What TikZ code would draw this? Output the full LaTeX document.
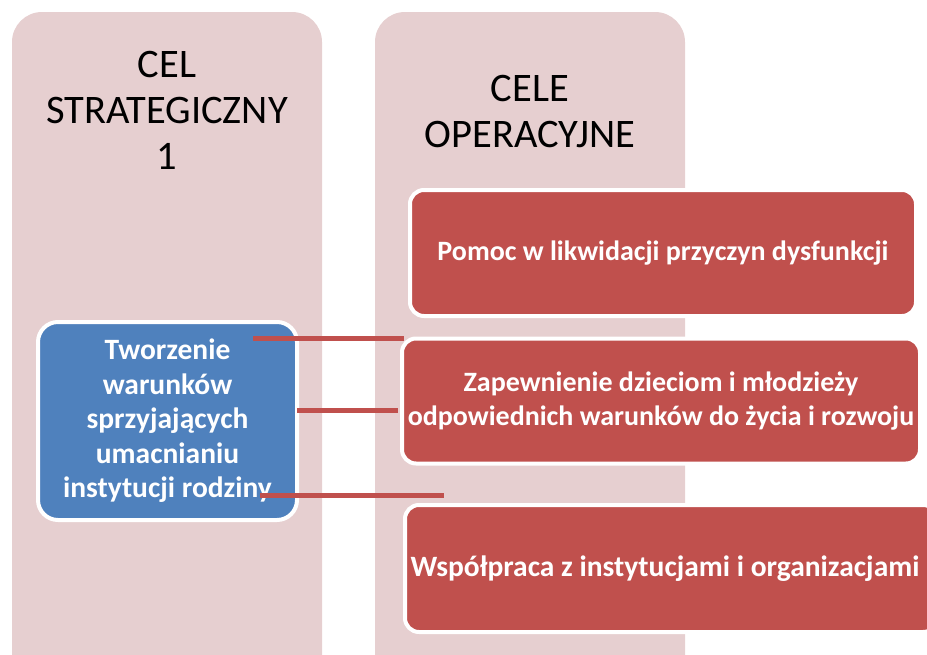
\documentclass[tikz,border=0pt]{standalone}
\usepackage{fontspec}
\setmainfont{Carlito}
\usetikzlibrary{positioning}

\definecolor{colbg}{RGB}{230,207,208}
\definecolor{stratblue}{RGB}{79,129,189}
\definecolor{opred}{RGB}{192,80,77}

\tikzset{
  column box/.style={rectangle, rounded corners=30pt, fill=colbg, minimum width=310pt, minimum height=700pt},
  head text/.style={align=center, font=\fontsize{40.5}{46}\selectfont},
  strat box/.style={rectangle, rounded corners=20pt, fill=stratblue, draw=white, line width=4pt, text=white, align=center, font=\fontsize{29.5}{34.5}\bfseries\selectfont},
  op box/.style={rectangle, rounded corners=14pt, fill=opred, draw=white, line width=4pt, text=white, align=center, font=\fontsize{28}{34}\bfseries\selectfont},
  link/.style={draw=opred, line width=5pt}
}

\begin{document}
\begin{tikzpicture}[x=1pt, y=-1pt]
   \useasboundingbox (0,0) rectangle (927,654);
   \clip (0,0) rectangle (927,654);

   % columns
   \node[column box] (strat col) at (167,362) {};
   \node[column box] (op col)    at (530,362) {};
   \node[head text] (strat head) at (167,110) {CEL\\STRATEGICZNY\\1};
   \node[head text] (op head)    at (530,111) {CELE\\OPERACYJNE};

   % strategic goal
   \node[strat box, minimum width=259pt, minimum height=198pt] (goal) at (167.5,421)
      {Tworzenie\\warunków\\sprzyjających\\umacnianiu\\instytucji rodziny};

   % operational goals
   \node[op box, minimum width=506pt, minimum height=126pt] (op1) at (663,253)
      {Pomoc w likwidacji przyczyn dysfunkcji};
   \node[op box, minimum width=518pt, minimum height=125pt] (op2) at (661,401)
      {Zapewnienie dzieciom i młodzieży\\odpowiednich warunków do życia i rozwoju};
   \node[op box, minimum width=532pt, minimum height=127pt, font=\fontsize{29.5}{34}\bfseries\selectfont] (op3) at (671,568.5)
      {\hspace*{-12pt}Współpraca z instytucjami i organizacjami};

   % links
   \coordinate (l1a) at (253,338);
   \coordinate (l1b) at (404,338);
   \coordinate (l2a) at (297,410);
   \coordinate (l2b) at (398,410);
   \coordinate (l3a) at (260,495);
   \coordinate (l3b) at (444,495);
   \draw[link] (l1a) -- (l1b);
   \draw[link] (l2a) -- (l2b);
   \draw[link] (l3a) -- (l3b);
\end{tikzpicture}
\end{document}
